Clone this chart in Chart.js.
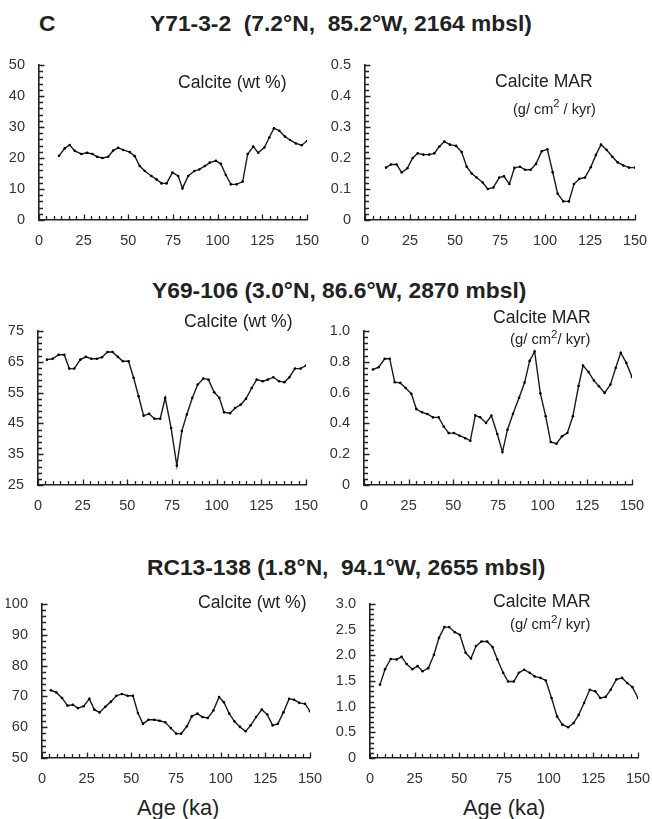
<!DOCTYPE html>
<html><head><meta charset="utf-8">
<script src="https://cdn.jsdelivr.net/npm/chart.js@4.4.1/dist/chart.umd.min.js"></script>
<style>
html,body{margin:0;padding:0;background:#fff;}
body{width:652px;height:819px;position:relative;overflow:hidden;font-family:"Liberation Sans",Arial,Helvetica,sans-serif;color:#222;}
.t{position:absolute;white-space:pre;line-height:1;}
.b{font-weight:bold;}
canvas{position:absolute;}
sup{font-size:0.78em;position:relative;top:-0.3em;vertical-align:top;line-height:1;}
</style></head>
<body>
<div id="root"></div>
<script>
// ---------- DATA ----------
const xTicks = [0, 25, 50, 75, 100, 125, 150];

// Y71-3-2
const agesY71Wt = [11.2,14.4,17.2,20.0,23.7,26.9,29.9,32.5,35.5,38.7,41.5,44.3,47.1,50.8,53.6,56.4,59.2,62.9,65.8,68.6,71.4,74.7,77.9,80.3,83.5,86.9,89.7,92.8,95.6,99.0,101.8,104.6,107.4,110.6,114.0,116.8,119.9,122.7,126.1,128.9,131.5,134.5,137.7,140.5,143.8,147.0,150.0];
const calciteY71 = [20.7,23.1,24.2,22.3,21.3,21.7,21.3,20.4,20.0,20.4,22.4,23.3,22.6,21.9,20.6,17.4,15.8,14.2,13.1,11.8,11.8,15.3,14.2,10.2,14.2,15.8,16.3,17.4,18.5,19.1,18.1,14.5,11.5,11.5,12.4,21.3,23.7,21.7,23.4,26.6,29.6,28.8,26.9,25.8,24.7,24.1,25.5];
const agesY71Mar = [11.7,14.4,17.6,20.4,23.5,26.5,29.3,32.4,35.7,38.5,41.3,44.1,47.2,50.6,53.7,56.5,59.3,62.0,65.4,68.2,71.3,74.6,77.2,80.2,83.0,86.1,88.9,92.0,95.0,98.2,101.3,104.3,107.0,110.2,113.3,116.1,119.1,122.2,125.4,128.3,131.1,134.3,137.4,140.4,143.5,146.7,150.0];
const marY71 = [0.169,0.179,0.179,0.153,0.167,0.200,0.215,0.211,0.211,0.215,0.237,0.253,0.243,0.239,0.219,0.172,0.150,0.137,0.121,0.100,0.105,0.137,0.141,0.116,0.168,0.172,0.162,0.162,0.181,0.222,0.228,0.154,0.085,0.060,0.060,0.116,0.133,0.137,0.170,0.210,0.243,0.226,0.204,0.186,0.176,0.169,0.169];
const yTicksY71Wt = [0, 10, 20, 30, 40, 50];
const yTicksY71Mar = [0, 0.1, 0.2, 0.3, 0.4, 0.5];

// Y69-106
const agesY69Wt = [5.0,8.2,11.5,14.7,17.5,20.3,23.7,26.8,29.8,33.0,35.8,38.9,41.7,44.7,47.5,50.7,53.5,56.3,59.1,62.2,65.2,68.4,71.2,74.5,77.7,80.5,83.3,86.4,89.4,92.6,95.4,98.6,101.5,104.1,107.5,110.3,113.5,116.4,119.6,122.4,125.8,128.6,131.7,134.9,137.9,140.7,143.8,147.0,150.0];
const calciteY69 = [65.7,66.0,67.3,67.3,62.8,62.8,65.7,66.6,66.0,66.0,66.5,68.2,68.2,66.6,65.2,65.2,59.8,53.8,47.5,48.1,46.5,46.5,53.3,43.5,31.3,42.5,47.9,53.3,57.6,59.6,59.2,55.1,53.3,48.6,48.3,50.0,51.1,53.0,56.5,59.2,58.7,59.2,60.0,58.7,58.4,60.0,62.8,62.8,63.8];
const agesY69Mar = [5.0,8.2,11.6,14.4,17.2,20.3,23.3,26.5,29.3,32.5,35.4,38.6,41.8,44.6,47.4,50.4,53.5,56.7,59.5,62.3,65.0,68.3,71.3,74.6,77.5,80.3,83.4,86.8,89.9,92.7,95.5,98.7,101.7,104.5,107.7,110.8,113.8,116.9,120.1,122.6,125.7,128.7,131.5,134.7,137.9,140.9,143.7,146.8,150.0];
const marY69 = [0.750,0.765,0.820,0.820,0.667,0.663,0.630,0.593,0.493,0.472,0.461,0.439,0.439,0.380,0.337,0.337,0.320,0.304,0.287,0.452,0.440,0.403,0.451,0.331,0.214,0.359,0.462,0.567,0.665,0.806,0.867,0.595,0.446,0.279,0.268,0.316,0.338,0.446,0.643,0.776,0.733,0.678,0.641,0.598,0.652,0.761,0.859,0.793,0.702];
const yTicksY69Wt = [25, 35, 45, 55, 65, 75];
const yTicksY69Mar = [0, 0.2, 0.4, 0.6, 0.8, 1.0];

// RC13-138
const agesRC13Wt = [5.0,8.0,11.2,14.3,17.3,20.1,23.3,26.5,29.3,32.2,35.4,38.6,41.6,44.7,47.9,50.9,53.7,56.5,59.6,62.8,65.8,69.0,72.1,75.1,77.9,81.1,83.8,87.0,89.8,92.8,95.9,99.1,101.8,104.8,107.7,110.8,114.0,116.8,119.8,123.0,126.1,129.1,132.0,135.1,138.3,141.1,144.0,147.2,150.0];
const calciteRC13 = [72.0,71.3,69.5,67.0,67.3,66.2,66.8,69.2,65.7,64.8,66.6,68.3,70.2,70.8,70.2,70.2,64.6,61.1,62.4,62.4,62.1,61.6,59.7,57.9,57.9,60.3,63.5,64.4,63.3,63.0,65.4,69.8,68.1,64.4,61.9,60.1,58.7,60.6,63.3,65.7,64.1,60.6,61.1,64.8,69.2,68.9,67.9,67.6,65.2];
const agesRC13Mar = [5.6,8.4,11.6,14.9,17.7,20.5,23.7,26.6,29.4,32.6,35.8,38.6,41.6,44.3,47.5,50.3,53.5,56.5,59.3,62.4,65.6,68.6,71.3,74.5,77.3,80.5,83.3,86.3,89.4,92.2,95.4,98.4,101.6,104.7,107.7,110.9,114.0,116.8,119.8,123.0,126.1,128.9,131.9,134.7,137.9,141.1,144.0,146.9,150.0];
const marRC13 = [1.43,1.73,1.93,1.92,1.97,1.83,1.73,1.79,1.69,1.75,2.01,2.34,2.55,2.55,2.45,2.40,2.05,1.94,2.18,2.27,2.27,2.16,1.92,1.66,1.49,1.49,1.66,1.72,1.66,1.59,1.56,1.51,1.17,0.81,0.65,0.60,0.68,0.84,1.07,1.33,1.30,1.17,1.19,1.33,1.53,1.56,1.46,1.38,1.17];
const yTicksRC13Wt = [50, 60, 70, 80, 90, 100];
const yTicksRC13Mar = [0, 0.5, 1.0, 1.5, 2.0, 2.5, 3.0];

// ---------- LAYOUT ----------
const FONT = '"Liberation Sans", Arial, Helvetica, sans-serif';
const INK = '#222';
const YW = 36, XH = 34, PT = 20, PR = 20;

const panels = [
  {ages: agesY71Wt,  vals: calciteY71,  yt: yTicksY71Wt,  area: {l: 39,  t: 65,  r: 307, b: 220}, dec: 0},
  {ages: agesY71Mar, vals: marY71,      yt: yTicksY71Mar, area: {l: 365, t: 65,  r: 635, b: 220}, dec: 1},
  {ages: agesY69Wt,  vals: calciteY69,  yt: yTicksY69Wt,  area: {l: 38,  t: 331, r: 306, b: 485}, dec: 0},
  {ages: agesY69Mar, vals: marY69,      yt: yTicksY69Mar, area: {l: 364, t: 331, r: 632, b: 485}, dec: 1},
  {ages: agesRC13Wt, vals: calciteRC13, yt: yTicksRC13Wt, area: {l: 42,  t: 604, r: 310, b: 758}, dec: 0},
  {ages: agesRC13Mar,vals: marRC13,     yt: yTicksRC13Mar,area: {l: 370, t: 604, r: 638, b: 758}, dec: 1}
];

const inTicks = {
  id: 'inTicks',
  afterDraw(chart, args, o) {
    const {ctx, chartArea: a, scales: {x, y}} = chart;
    ctx.save();
    ctx.strokeStyle = INK; ctx.lineWidth = 1.3;
    ctx.beginPath();
    const nx = Math.round((x.max - x.min) / o.xMinor);
    for (let i = 0; i <= nx; i++) {
      const v = x.min + i * o.xMinor;
      const major = Math.abs(v / o.xMajor - Math.round(v / o.xMajor)) < 1e-6;
      const px = Math.round(x.getPixelForValue(v)) + 0.5;
      ctx.moveTo(px, a.bottom); ctx.lineTo(px, a.bottom - (major ? 5.5 : 4));
    }
    const ny = Math.round((y.max - y.min) / o.yMinor);
    for (let i = 0; i <= ny; i++) {
      const v = y.min + i * o.yMinor;
      const major = (i % 5) === 0;
      const py = Math.round(y.getPixelForValue(v)) + 0.5;
      ctx.moveTo(a.left, py); ctx.lineTo(a.left + (major ? 5.5 : 4), py);
    }
    ctx.stroke();
    ctx.restore();
  }
};

const root = document.getElementById('root');
panels.forEach(p => {
  const a = p.area;
  const cv = document.createElement('canvas');
  const w = YW + (a.r - a.l) + PR, h = PT + (a.b - a.t) + XH;
  cv.width = w; cv.height = h;
  cv.style.left = (a.l - YW) + 'px'; cv.style.top = (a.t - PT) + 'px';
  cv.style.width = w + 'px'; cv.style.height = h + 'px';
  root.appendChild(cv);
  const ymin = p.yt[0], ymax = p.yt[p.yt.length - 1];
  const ymajor = p.yt[1] - p.yt[0];
  new Chart(cv, {
    type: 'line',
    data: {datasets: [{
      data: p.ages.map((x, i) => ({x: x, y: p.vals[i]})),
      borderColor: '#1a1a1a', borderWidth: 1.4,
      pointRadius: 1.3, pointBackgroundColor: '#000', pointBorderWidth: 0,
      tension: 0, fill: false
    }]},
    options: {
      responsive: false, animation: false, devicePixelRatio: 1,
      layout: {padding: {top: PT, right: PR, left: 0, bottom: 0}},
      plugins: {legend: {display: false}, tooltip: {enabled: false},
        inTicks: {xMinor: 25 / 6, xMajor: 25, yMinor: ymajor / 5}},
      scales: {
        x: {type: 'linear', min: 0, max: 150,
          afterBuildTicks: s => { s.ticks = xTicks.map(v => ({value: v})); },
          afterFit: s => { s.height = XH; },
          grid: {display: false}, border: {display: true, color: INK, width: 1.6},
          ticks: {color: '#333', font: {family: FONT, size: 14.5}, padding: 4, maxRotation: 0, autoSkip: false}
        },
        y: {type: 'linear', min: ymin, max: ymax,
          afterBuildTicks: s => { s.ticks = p.yt.map(v => ({value: v})); },
          afterFit: s => { s.width = YW; },
          grid: {display: false}, border: {display: true, color: INK, width: 1.6},
          ticks: {color: '#333', font: {family: FONT, size: 14.5}, padding: 6, autoSkip: false,
            callback: v => (v === 0 ? '0' : (p.dec ? Number(v).toFixed(1) : String(v)))}
        }
      }
    },
    plugins: [inTicks]
  });
});

// ---------- TEXT ----------
function txt(html, x, baseline, size, bold) {
  const d = document.createElement('div');
  d.className = 't' + (bold ? ' b' : '');
  d.style.fontSize = size + 'px';
  d.style.left = x + 'px';
  d.style.top = (baseline - 0.8465 * size) + 'px';
  d.innerHTML = html;
  document.body.appendChild(d);
}
txt('C', 39, 31, 22.8, true);
txt('Y71-3-2  (7.2°N,  85.2°W, 2164 mbsl)', 150, 31, 22.8, true);
txt('Y69-106 (3.0°N, 86.6°W, 2870 mbsl)', 152, 298, 22.8, true);
txt('RC13-138 (1.8°N,  94.1°W, 2655 mbsl)', 147, 575, 22.8, true);

txt('Calcite (wt %)', 178, 89, 17.6, false);
txt('Calcite MAR', 495, 88, 17.6, false);
txt('(g/ cm<sup>2</sup> / kyr)', 513, 114, 14.5, false);

txt('Calcite (wt %)', 184, 328, 17.6, false);
txt('Calcite MAR', 493, 324, 17.6, false);
txt('(g/ cm<sup>2</sup>/ kyr)', 510, 345, 14.8, false);

txt('Calcite (wt %)', 198, 609, 17.6, false);
txt('Calcite MAR', 493, 608, 17.6, false);
txt('(g/ cm<sup>2</sup>/ kyr)', 510, 630, 14.8, false);

txt('Age (ka)', 137, 815, 21.8, false);
txt('Age (ka)', 463, 815, 21.8, false);
</script>
</body></html>
